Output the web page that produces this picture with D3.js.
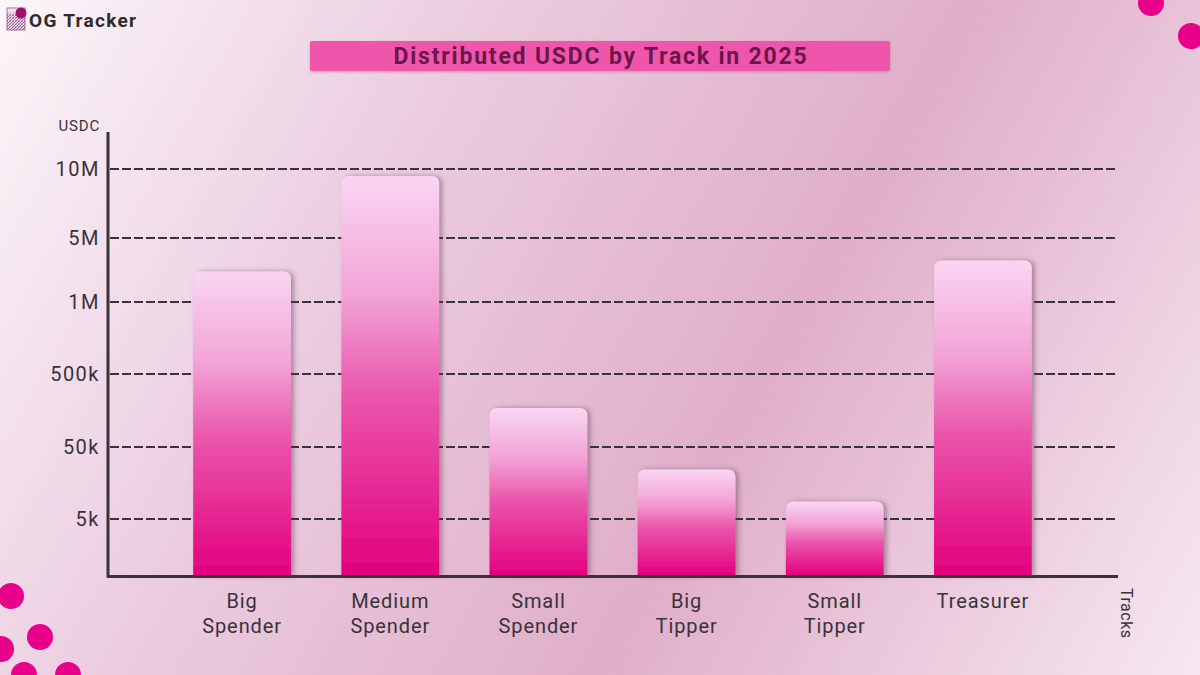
<!DOCTYPE html>
<html>
<head>
<meta charset="utf-8">
<script src="https://cdn.jsdelivr.net/npm/d3@7"></script>
<style>
  html, body { margin: 0; padding: 0; }
  body { width: 1200px; height: 675px; overflow: hidden; font-family: Roboto, "Noto Sans", sans-serif; }
</style>
</head>
<body>
<svg id="chart" width="1200" height="675"></svg>
<script>
// data
const tracks = [["Big", "Spender"], ["Medium", "Spender"], ["Small", "Spender"], ["Big", "Tipper"], ["Small", "Tipper"], ["Treasurer"]];
const usdcValues = [2900000, 9500000, 290000, 36000, 16000, 3600000];
const tickValues = [5000, 50000, 500000, 1000000, 5000000, 10000000];
const tickLabels = ["5k", "50k", "500k", "1M", "5M", "10M"];

const svg = d3.select("#chart");
const defs = svg.append("defs");

// background
const bg = defs.append("linearGradient").attr("id", "bgGrad")
  .attr("gradientUnits", "userSpaceOnUse")
  .attr("x1", 0).attr("y1", 0).attr("x2", 1200).attr("y2", 675);
bg.append("stop").attr("offset", "0").attr("stop-color", "#fcf6f9");
bg.append("stop").attr("offset", "0.3").attr("stop-color", "#ebcde0");
bg.append("stop").attr("offset", "0.62").attr("stop-color", "#e0aeca");
bg.append("stop").attr("offset", "1").attr("stop-color", "#f6e8f0");
svg.append("rect").attr("width", 1200).attr("height", 675).attr("fill", "url(#bgGrad)");

// bar gradient
const bg2 = defs.append("linearGradient").attr("id", "barGrad")
  .attr("x1", 0).attr("y1", 0).attr("x2", 0).attr("y2", 1);
bg2.append("stop").attr("offset", "0").attr("stop-color", "#f9d6f2");
bg2.append("stop").attr("offset", "0.3").attr("stop-color", "#f2a3d6");
bg2.append("stop").attr("offset", "0.55").attr("stop-color", "#ea55ab");
bg2.append("stop").attr("offset", "1").attr("stop-color", "#e2007e");

const shadow = defs.append("filter").attr("id", "shadow")
  .attr("x", "-20%").attr("y", "-20%").attr("width", "150%").attr("height", "140%");
shadow.append("feDropShadow").attr("dx", 3).attr("dy", 0).attr("stdDeviation", 2.5)
  .attr("flood-color", "#5a3550").attr("flood-opacity", 0.45);

const titleShadow = defs.append("filter").attr("id", "tshadow")
  .attr("x", "-5%").attr("y", "-30%").attr("width", "110%").attr("height", "170%");
titleShadow.append("feDropShadow").attr("dx", 0).attr("dy", 1).attr("stdDeviation", 1.5)
  .attr("flood-color", "#7a3a60").attr("flood-opacity", 0.35);

// decorative dots
const dots = [[1151, 3], [1191, 36], [11, 596], [40, 637], [1, 649], [24, 675], [68, 675]];
svg.append("g").selectAll("circle").data(dots).join("circle")
  .attr("cx", d => d[0]).attr("cy", d => d[1]).attr("r", 13)
  .attr("fill", "#e9008a");

// logo
defs.append("clipPath").attr("id", "logoClip")
  .append("rect").attr("width", 18).attr("height", 22);
const logo = svg.append("g").attr("transform", "translate(7,8)");
const hatch = logo.append("g").attr("clip-path", "url(#logoClip)");
hatch.append("rect").attr("width", 18).attr("height", 22).attr("fill", "#f6e4ee");
d3.range(-8, 10).forEach(i => {
  hatch.append("line").attr("x1", i * 3).attr("y1", 22).attr("x2", i * 3 + 16).attr("y2", 6)
    .attr("stroke", "#8a4a8c").attr("stroke-width", 0.9);
  hatch.append("line").attr("x1", i * 3).attr("y1", 4).attr("x2", i * 3 + 18).attr("y2", 22)
    .attr("stroke", "#b27cb3").attr("stroke-width", 0.6);
});
logo.append("rect").attr("width", 18).attr("height", 22).attr("fill", "none")
  .attr("stroke", "#8a5a86").attr("stroke-width", 0.8);
logo.append("circle").attr("cx", 14).attr("cy", 5).attr("r", 5.5).attr("fill", "#a0126a");
svg.append("text").attr("x", 29).attr("y", 27)
  .attr("font-size", 19).attr("font-weight", 700).attr("fill", "#2f2a2e")
  .attr("letter-spacing", 1.3)
  .text("OG Tracker");

// title
svg.append("rect").attr("x", 310).attr("y", 41).attr("width", 580).attr("height", 30)
  .attr("rx", 2).attr("fill", "#ef55ab").attr("filter", "url(#tshadow)");
svg.append("text").attr("x", 601).attr("y", 64).attr("text-anchor", "middle")
  .attr("font-size", 23).attr("font-weight", 700).attr("fill", "#6b1748")
  .attr("letter-spacing", 1.8)
  .text("Distributed USDC by Track in 2025");

// scales
const x = d3.scaleBand().domain(d3.range(tracks.length))
  .range([168, 1057]).paddingInner(0.34).paddingOuter(0.17);
const y = d3.scaleLinear()
  .domain([0].concat(tickValues))
  .range([576, 519, 447, 374, 302, 238, 169]);

const axisColor = "#3a3238";

// grid
svg.append("g").selectAll("line").data(tickValues).join("line")
  .attr("x1", 110).attr("x2", 1117)
  .attr("y1", d => y(d)).attr("y2", d => y(d))
  .attr("stroke", axisColor).attr("stroke-width", 1.8).attr("stroke-dasharray", "9,3");

// y axis labels
const yAxis = d3.axisLeft(y).tickValues(tickValues)
  .tickFormat((d, i) => tickLabels[i]).tickSize(0).tickPadding(8);
const yg = svg.append("g").attr("transform", "translate(108,0)").call(yAxis);
yg.select(".domain").remove();
yg.selectAll("text").attr("font-size", 20).attr("fill", axisColor)
  .attr("letter-spacing", 1.5)
  .attr("font-family", "Roboto, sans-serif");

// bars
svg.append("g").selectAll("path").data(usdcValues).join("path")
  .attr("d", (d, i) => {
    const x0 = x(i), w = x.bandwidth(), y0 = y(d), yb = y(0), r = 8;
    return `M${x0},${yb}V${y0 + r}Q${x0},${y0} ${x0 + r},${y0}H${x0 + w - r}Q${x0 + w},${y0} ${x0 + w},${y0 + r}V${yb}Z`;
  })
  .attr("fill", "url(#barGrad)").attr("filter", "url(#shadow)");

// axes lines
svg.append("line").attr("x1", 108).attr("x2", 108).attr("y1", 132).attr("y2", 577.5)
  .attr("stroke", axisColor).attr("stroke-width", 3);
svg.append("line").attr("x1", 107).attr("x2", 1118).attr("y1", 576.5).attr("y2", 576.5)
  .attr("stroke", axisColor).attr("stroke-width", 3);

// x labels
const xl = svg.append("g").selectAll("text").data(tracks).join("text")
  .attr("x", (d, i) => x(i) + x.bandwidth() / 2).attr("y", 608)
  .attr("text-anchor", "middle").attr("font-size", 20).attr("fill", axisColor)
  .attr("letter-spacing", 0.9);
xl.selectAll("tspan").data(d => d).join("tspan")
  .attr("x", function() { return d3.select(this.parentNode).attr("x"); })
  .attr("dy", (d, i) => i === 0 ? 0 : 25)
  .text(d => d);

// axis titles
svg.append("text").attr("x", 100).attr("y", 131).attr("text-anchor", "end")
  .attr("font-size", 15).attr("fill", axisColor).attr("letter-spacing", 0.8).text("USDC");
svg.append("text").attr("transform", "translate(1121,588) rotate(90)")
  .attr("font-size", 16).attr("fill", axisColor).attr("letter-spacing", 0.5).text("Tracks");
</script>
</body>
</html>
